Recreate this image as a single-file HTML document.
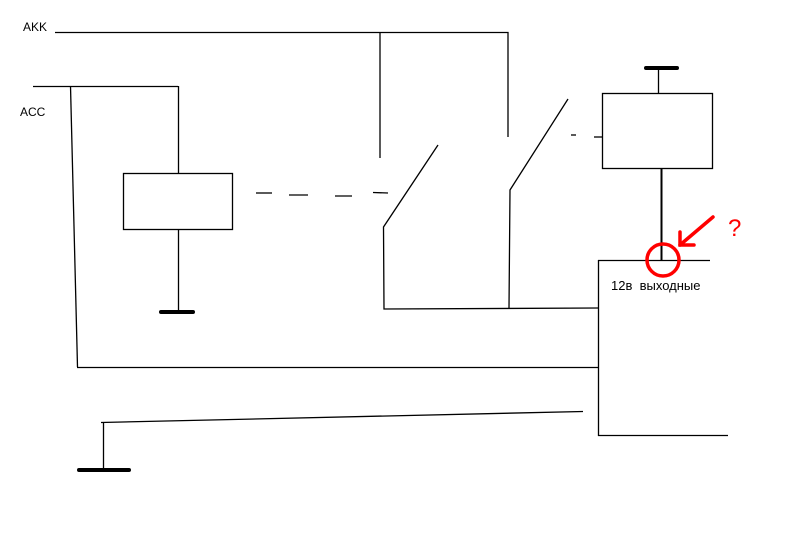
<!DOCTYPE html>
<html><head><meta charset="utf-8"><style>
html,body{margin:0;padding:0;background:#fff;}
svg{display:block;}
text{font-family:"Liberation Sans",sans-serif;}
</style></head><body>
<svg width="789" height="549" viewBox="0 0 789 549" xmlns="http://www.w3.org/2000/svg">
<rect width="789" height="549" fill="#fff"/>
<g stroke="#000" stroke-width="1.3" fill="none">
<polyline points="55,32.5 508,32.5 508,137"/>
<line x1="380" y1="32.5" x2="380" y2="158"/>
<line x1="33" y1="86.5" x2="178" y2="86.5"/>
<line x1="70.5" y1="86" x2="77.5" y2="367"/>
<line x1="178.5" y1="86" x2="178.5" y2="173"/>
<rect x="123.5" y="173.5" width="109" height="56"/>
<line x1="178.5" y1="229" x2="178.5" y2="312"/>
<line x1="256" y1="193" x2="272" y2="193"/>
<line x1="289" y1="195" x2="308" y2="195"/>
<line x1="335" y1="196" x2="352" y2="196"/>
<line x1="373" y1="192.5" x2="388" y2="193"/>
<polyline points="438,145 383.5,227 384,309 598,308"/>
<polyline points="568,99 510,190 509,308"/>
<line x1="571" y1="135" x2="576" y2="135"/>
<line x1="594" y1="137" x2="602" y2="137"/>
<rect x="602.5" y="93.5" width="110" height="75"/>
<line x1="658.5" y1="68" x2="658.5" y2="93"/>
<line x1="77" y1="367.5" x2="598" y2="367.5"/>
<polyline points="598.5,260 598.5,436"/>
<line x1="598" y1="260.5" x2="710" y2="260.5"/>
<line x1="598" y1="435.5" x2="728" y2="435.5"/>
<line x1="101" y1="422.5" x2="583" y2="411.5"/>
<line x1="103.5" y1="422" x2="103.5" y2="470"/>
</g>
<line x1="661.5" y1="169" x2="661.5" y2="260" stroke="#000" stroke-width="2"/>
<g stroke="#000" stroke-width="4" stroke-linecap="round">
<line x1="161" y1="312" x2="193" y2="312"/>
<line x1="646" y1="68" x2="677" y2="68"/>
<line x1="79" y1="470" x2="129" y2="470"/>
</g>
<circle cx="663" cy="260" r="16" fill="none" stroke="#f00" stroke-width="3.5"/>
<g stroke="#f00" stroke-width="3.5" stroke-linecap="round" fill="none">
<line x1="713" y1="217" x2="680" y2="245"/>
<polyline points="680,232 680,245 694,245"/>
</g>
<text x="728" y="236" font-size="24" fill="#f00">?</text>
<text x="23" y="31" font-size="12" fill="#000">AKK</text>
<text x="20" y="116" font-size="12" fill="#000">ACC</text>
<text x="611" y="290" font-size="13" fill="#000" xml:space="preserve">12в  выходные</text>
</svg>
</body></html>
